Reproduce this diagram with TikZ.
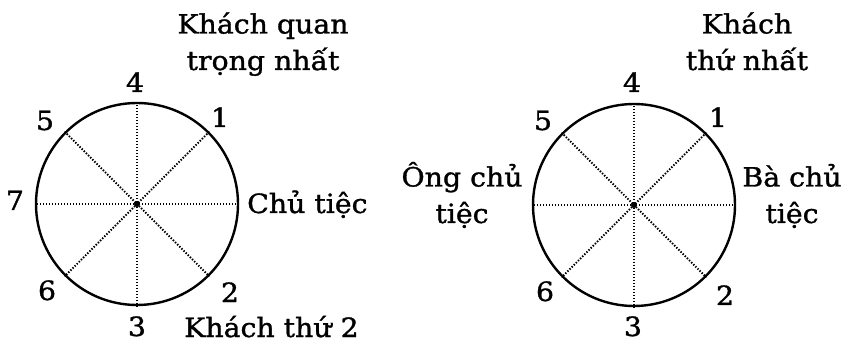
\documentclass[tikz,border=0pt]{standalone}
\usepackage{fontspec}
\setmainfont{DejaVu Serif}[FakeStretch=1.07,FakeBold=1.2]
\begin{document}
\begin{tikzpicture}[x=1pt,y=-1pt,
  ring/.style={circle,draw,line width=2.4pt,minimum size=202pt,inner sep=0pt},
  spoke/.style={line width=2pt,dash pattern=on 1.4pt off 1.6pt},
  hub/.style={circle,fill,inner sep=0pt,minimum size=6pt},
  lab/.style={font=\fontsize{26.5}{36.5}\selectfont,inner sep=0pt,anchor=base},
  mlab/.style={lab,align=center}]
\useasboundingbox (0,0) rectangle (845,344);
% left
\node[ring] (L) at (137,204) {};
\draw[spoke] (L.north) -- (L.south);
\draw[spoke] (L.east) -- (L.west);
\draw[spoke] (L.45) -- (L.225);
\draw[spoke] (L.135) -- (L.315);
\node[hub] (Lc) at (L.center) {};
\node[lab] (l4) at (135,92) {4};
\node[lab] (l5) at (45,130) {5};
\node[lab] (l1) at (220,127) {1};
\node[lab] (l7) at (15,210) {7};
\node[lab,anchor=base west] (lhost) at (247,213) {Chủ tiệc};
\node[lab] (l6) at (47,300) {6};
\node[lab] (l2) at (230,302) {2};
\node[lab] (l3) at (137,336) {3};
\node[lab,anchor=base west] (lg2) at (184,337) {Khách thứ 2};
\node[mlab] (lvip) at (263,70) {Khách quan\\trọng nhất};
% right
\node[ring] (R) at (634,205) {};
\draw[spoke] (R.north) -- (R.south);
\draw[spoke] (R.east) -- (R.west);
\draw[spoke] (R.45) -- (R.225);
\draw[spoke] (R.135) -- (R.315);
\node[hub] (Rc) at (R.center) {};
\node[lab] (r4) at (632,92) {4};
\node[lab] (r5) at (543,130) {5};
\node[lab] (r1) at (718,127) {1};
\node[mlab] (rhost) at (462,223) {Ông chủ\\tiệc};
\node[mlab] (rhostess) at (792,223) {Bà chủ\\tiệc};
\node[lab] (r6) at (545,301) {6};
\node[lab] (r2) at (725,305) {2};
\node[lab] (r3) at (633,336) {3};
\node[mlab] (rg1) at (747,70) {Khách\\thứ nhất};
\end{tikzpicture}
\end{document}
